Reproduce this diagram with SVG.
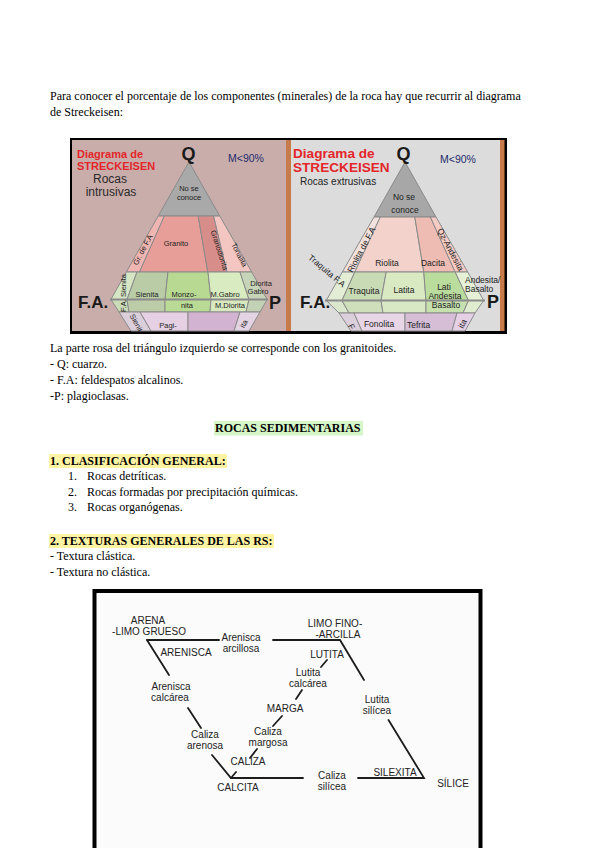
<svg xmlns="http://www.w3.org/2000/svg" width="600" height="848" viewBox="0 0 600 848">
<style>
.p{font-family:"Liberation Serif","Times New Roman",serif;font-size:12px;fill:#000}
.b{font-weight:bold}
.s{font-family:"Liberation Sans",Arial,sans-serif}
.red{font-weight:bold;fill:#e3262a}
.big{font-weight:bold;fill:#1a1a1a}
.lab{font-family:"Liberation Sans",Arial,sans-serif;font-size:7.5px;fill:#222;text-anchor:middle}
.labr{font-family:"Liberation Sans",Arial,sans-serif;font-size:8.5px;fill:#222;text-anchor:middle}
.st{text-anchor:start}
.fl{stroke:#8a8a8a;stroke-width:1;stroke-linejoin:round}
.ap{stroke:#8a8a8a;stroke-width:2.2;fill:none}
.sd{font-family:"Liberation Sans",Arial,sans-serif;font-size:10px;fill:#222;text-anchor:middle}
.ln{stroke:#1c1c1c;stroke-width:1.8;fill:none;stroke-linecap:round}
</style>

<rect x="0" y="0" width="600" height="848" fill="#fff"/>

<g id="intro">
<text class="p" x="50" y="100">Para conocer el porcentaje de los componentes (minerales) de la roca hay que recurrir al diagrama</text>
<text class="p" x="50" y="116">de Streckeisen:</text>
</g>

<g id="streckeisen">
<rect x="70" y="138" width="437" height="196" fill="#000"/>
<rect x="72" y="140" width="215" height="191" fill="#c9adab"/>
<rect x="286" y="140" width="5" height="191" fill="#c77a4a"/>
<rect x="291" y="140" width="210" height="191" fill="#dcdcdc"/>
<rect x="500" y="140" width="4.5" height="191" fill="#c77a4a"/>

<g id="left-panel">
<polygon class="fl" points="189,162 158.2,216 219.8,216" fill="#a9a9a9"/>
<polygon class="fl" points="158.2,216 164.4,216 139.5,272 126.3,272" fill="#efb5b1"/>
<polygon class="fl" points="164.4,216 198.2,216 207.8,272 139.5,272" fill="#e89e98"/>
<polygon class="fl" points="198.2,216 213.6,216 227,272 207.8,272" fill="#d78d8a"/>
<polygon class="fl" points="213.6,216 219.8,216 251.7,272 227,272" fill="#f3c6c2"/>
<polygon class="fl" points="126.3,272 137,272 127,299.5 110.9,299.5" fill="#d6e6c4"/>
<polygon class="fl" points="137,272 168,272 165,299.5 127,299.5" fill="#b9cca6"/>
<polygon class="fl" points="168,272 208,272 211,299.5 165,299.5" fill="#b8d992"/>
<polygon class="fl" points="208,272 240,272 249,299.5 211,299.5" fill="#d9ebc0"/>
<polygon class="fl" points="240,272 251.7,272 267.1,299.5 249,299.5" fill="#c6d4b8"/>
<polygon class="fl" points="110.9,299.5 127,299.5 129,312 119,312" fill="#cbdcb8"/>
<polygon class="fl" points="127,299.5 165,299.5 165,312 129,312" fill="#bccca8"/>
<polygon class="fl" points="165,299.5 211,299.5 210,312 165,312" fill="#badb96"/>
<polygon class="fl" points="211,299.5 249,299.5 246,312 210,312" fill="#d8e9c0"/>
<polygon class="fl" points="249,299.5 267.1,299.5 260,312 246,312" fill="#c3d2b4"/>
<polygon class="fl" points="119,312 140,312 151,331 131,331" fill="#dccfdc"/>
<polygon class="fl" points="140,312 188,312 188,331 151,331" fill="#e6d0e4"/>
<polygon class="fl" points="188,312 240,312 234,331 188,331" fill="#d3b3d2"/>
<polygon class="fl" points="240,312 260,312 249,331 234,331" fill="#e3d3e3"/>
<line class="ap" x1="110" y1="299.5" x2="268" y2="299.5"/>

<text class="s red" x="77" y="158" font-size="11">Diagrama de</text>
<text class="s red" x="77" y="170" font-size="11">STRECKEISEN</text>
<text class="s big" x="188.5" y="160" font-size="18" text-anchor="middle">Q</text>
<text class="s" x="228" y="162" font-size="10.5" fill="#1f2b6b">M&lt;90%</text>
<text class="s" x="110" y="183" font-size="12" fill="#2a2a2a" text-anchor="middle">Rocas</text>
<text class="s" x="111" y="196" font-size="12" fill="#2a2a2a" text-anchor="middle">intrusivas</text>
<text class="s big" x="78" y="308" font-size="17">F.A.</text>
<text class="s big" x="269" y="309" font-size="18">P</text>

<text class="lab" x="189" y="191" font-size="7">No se</text>
<text class="lab" x="189" y="200" font-size="7">conoce</text>
<text class="lab" transform="translate(145,251) rotate(-62)">Gr. de F.A</text>
<text class="lab" x="176" y="246">Granito</text>
<text class="lab" transform="translate(217,251) rotate(72)">Granodiorita</text>
<text class="lab" transform="translate(237,256) rotate(62)">Tonalita</text>
<text class="lab" transform="translate(126,293) rotate(-90)">F.A. Sienita</text>
<text class="lab" x="147" y="297">Sienita</text>
<text class="lab" x="184" y="297">Monzo-</text>
<text class="lab" x="187" y="308">nita</text>
<text class="lab" x="225" y="297">M.Gabro</text>
<text class="lab" x="230" y="308">M.Diorita</text>
<text class="lab" x="261" y="286" font-size="7">Diorita</text>
<text class="lab" x="258" y="294" font-size="7">Gabro</text>
<text class="lab" transform="translate(134,324) rotate(62)">Sienit</text>
<text class="lab" x="168" y="328">Pagi-</text>
<text class="lab" transform="translate(246,325) rotate(-62)">ita</text>
</g>

<g id="right-panel">
<polygon class="fl" points="405,162 374,217 436,217" fill="#a7a7a7"/>
<polygon class="fl" points="374,217 380.3,217 354.8,272 342.3,272" fill="#f3e1dd"/>
<polygon class="fl" points="380.3,217 414.8,217 423.8,272 354.8,272" fill="#f2d2ca"/>
<polygon class="fl" points="414.8,217 430.4,217 455.2,272 423.8,272" fill="#eebcb2"/>
<polygon class="fl" points="430.4,217 436,217 467.7,272 455.2,272" fill="#f5cbc3"/>
<polygon class="fl" points="342.3,272 354.8,272 342,300.5 326.3,300.5" fill="#e3edd6"/>
<polygon class="fl" points="354.8,272 386.2,272 381,300.5 342,300.5" fill="#c9dbb5"/>
<polygon class="fl" points="386.2,272 423.8,272 426,300.5 381,300.5" fill="#d9e9c2"/>
<polygon class="fl" points="423.8,272 455.2,272 468.5,300.5 426,300.5" fill="#badc9c"/>
<polygon class="fl" points="455.2,272 467.7,272 483.7,300.5 468.5,300.5" fill="#e6f0d7"/>
<polygon class="fl" points="326.3,300.5 342,300.5 349,313 339,313" fill="#dae7cc"/>
<polygon class="fl" points="342,300.5 381,300.5 383,313 349,313" fill="#cfdfbc"/>
<polygon class="fl" points="381,300.5 426,300.5 426,313 383,313" fill="#d8e8c4"/>
<polygon class="fl" points="426,300.5 468.5,300.5 463,313 426,313" fill="#c6e0ae"/>
<polygon class="fl" points="468.5,300.5 483.7,300.5 475,313 463,313" fill="#dfeccf"/>
<polygon class="fl" points="339,313 354,313 362,331 351,331" fill="#dccfdc"/>
<polygon class="fl" points="354,313 405,313 405,331 362,331" fill="#e8d6e7"/>
<polygon class="fl" points="405,313 457,313 452,331 405,331" fill="#d6bed6"/>
<polygon class="fl" points="457,313 475,313 465,331 452,331" fill="#e6d0e6"/>
<line class="ap" x1="325" y1="300.5" x2="485" y2="300.5"/>

<text class="s red" x="293" y="158" font-size="13.6">Diagrama de</text>
<text class="s red" x="293" y="172" font-size="13.6">STRECKEISEN</text>
<text class="s big" x="403.5" y="160" font-size="18" text-anchor="middle">Q</text>
<text class="s" x="440" y="163" font-size="10.5" fill="#1f2b6b">M&lt;90%</text>
<text class="s" x="300" y="185" font-size="10" fill="#222">Rocas extrusivas</text>
<text class="s big" x="300" y="308" font-size="17">F.A.</text>
<text class="s big" x="487" y="308" font-size="18">P</text>

<text class="labr" x="404" y="200" font-size="10" fill="#d4d4d4">No se</text>
<text class="labr" x="405" y="213" font-size="10" fill="#d4d4d4">conoce</text>
<text class="labr" transform="translate(364,251) rotate(-62)">Riolita de F.A</text>
<text class="labr" x="387" y="266">Riolita</text>
<text class="labr" x="433" y="266">Dacita</text>
<text class="labr" transform="translate(448,251) rotate(62)">Qz-Andesita</text>
<text class="labr" transform="translate(325,273) rotate(40)">Traquita F.A</text>
<text class="labr" x="364" y="294" fill="#6a6a6a">Traquita</text>
<text class="labr" x="404" y="293">Latita</text>
<text class="labr" x="444" y="290">Lati</text>
<text class="labr" x="445" y="299">Andesita</text>
<text class="labr" x="446" y="308">Basalto</text>
<text class="labr st" x="465" y="283" font-size="7.5">Andesita/</text>
<text class="labr st" x="465" y="292" font-size="7.5">Basalto</text>
<text class="labr" transform="translate(349,328) rotate(62)">F</text>
<text class="labr" x="379" y="327">Fonolita</text>
<text class="labr st" x="407" y="328">Tefrita</text>
<text class="labr" transform="translate(465,325) rotate(-62)">ita</text>
</g>
</g>

<g id="body">
<text class="p" x="50" y="352">La parte rosa del triángulo izquierdo se corresponde con los granitoides.</text>
<text class="p" x="50" y="368">- Q: cuarzo.</text>
<text class="p" x="50" y="384">- F.A: feldespatos alcalinos.</text>
<text class="p" x="50" y="400">-P: plagioclasas.</text>

<rect x="214" y="421" width="149" height="14.5" fill="#d5f6c6"/>
<text class="p b" x="215" y="432">ROCAS SEDIMENTARIAS</text>

<rect x="49" y="454" width="178" height="14" fill="#fff4a3"/>
<text class="p b" x="50" y="464.5">1. CLASIFICACIÓN GENERAL:</text>
<text class="p" x="68" y="479.5">1.</text>
<text class="p" x="87" y="479.5">Rocas detríticas.</text>
<text class="p" x="68" y="495.5">2.</text>
<text class="p" x="87" y="495.5">Rocas formadas por precipitación químicas.</text>
<text class="p" x="68" y="511">3.</text>
<text class="p" x="87" y="511">Rocas organógenas.</text>

<rect x="49" y="534" width="225" height="14" fill="#fff4a3"/>
<text class="p b" x="50" y="544.5">2. TEXTURAS GENERALES DE LAS RS:</text>
<text class="p" x="50" y="560">- Textura clástica.</text>
<text class="p" x="50" y="576">- Textura no clástica.</text>
</g>

<g id="sed-frame">
<path d="M94.5,848 V591 H480.5 V848" fill="#fbfbfb" stroke="#000" stroke-width="4"/>
</g>

<g id="connectors">
<path class="ln" d="M147,640 H219"/>
<path class="ln" d="M147,640 L169,675"/>
<path class="ln" d="M188,708 L201,728"/>
<path class="ln" d="M212,755 L231,778 H303"/>
<path class="ln" d="M231,778 L236,772"/>
<path class="ln" d="M273,640 H340 L364,680"/>
<path class="ln" d="M388.5,720 L424,778 H358"/>
<path class="ln" d="M327,660 L321,667"/>
<path class="ln" d="M302,690 L296,699"/>
<path class="ln" d="M282,716 L273,726"/>
<path class="ln" d="M257,749 L250,758"/>
</g>

<g id="n-arena"><text class="sd" x="148" y="624">ARENA</text><text class="sd" x="149" y="635">-LIMO GRUESO</text></g>
<g id="n-arenisca-arcillosa"><text class="sd" x="241" y="641">Arenisca</text><text class="sd" x="241" y="652">arcillosa</text></g>
<g id="n-limo-fino"><text class="sd" x="335" y="627">LIMO FINO-</text><text class="sd" x="338" y="638">-ARCILLA</text></g>
<g id="n-arenisca"><text class="sd" x="186" y="656">ARENISCA</text></g>
<g id="n-lutita"><text class="sd" x="327" y="658">LUTITA</text></g>
<g id="n-lutita-calcarea"><text class="sd" x="308" y="676">Lutita</text><text class="sd" x="308" y="687">calcárea</text></g>
<g id="n-arenisca-calcarea"><text class="sd" x="171" y="690">Arenisca</text><text class="sd" x="170" y="701">calcárea</text></g>
<g id="n-lutita-silicea"><text class="sd" x="377" y="703">Lutita</text><text class="sd" x="377" y="714">silícea</text></g>
<g id="n-marga"><text class="sd" x="285" y="712">MARGA</text></g>
<g id="n-caliza-margosa"><text class="sd" x="268" y="735">Caliza</text><text class="sd" x="268" y="746">margosa</text></g>
<g id="n-caliza-arenosa"><text class="sd" x="205" y="738">Caliza</text><text class="sd" x="205" y="749">arenosa</text></g>
<g id="n-caliza"><text class="sd" x="248" y="765">CALIZA</text></g>
<g id="n-calcita"><text class="sd" x="238" y="791">CALCITA</text></g>
<g id="n-caliza-silicea"><text class="sd" x="332" y="779">Caliza</text><text class="sd" x="332" y="790">silícea</text></g>
<g id="n-silexita"><text class="sd" x="395" y="776">SILEXITA</text></g>
<g id="n-silice"><text class="sd" x="453" y="787">SÍLICE</text></g>
</svg>
